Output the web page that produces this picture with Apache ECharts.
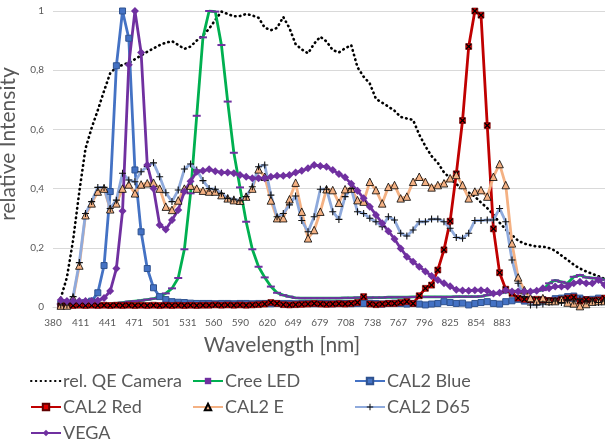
<!DOCTYPE html>
<html>
<head>
<meta charset="utf-8">
<script src="https://cdn.jsdelivr.net/npm/echarts@6.0.0/dist/echarts.min.js"></script>
<style>
html, body { margin: 0; padding: 0; background: #fff; }
#chart { width: 605px; height: 442px; }
</style>
</head>
<body>
<div id="chart"></div>
<script>
// wavelengths of the sample points (nm)
var wl = [388.7,395.6,402.5,409.5,416.4,423.3,430.2,437.2,444.1,451.0,
  457.9,464.9,471.8,478.7,485.6,492.6,499.5,506.4,513.3,520.3,
  527.2,534.1,541.0,548.0,554.9,561.8,568.7,575.7,582.6,589.5,
  596.4,603.3,610.3,617.2,624.1,631.0,638.0,644.9,651.8,658.7,
  665.7,672.6,679.5,686.4,693.4,700.3,707.2,714.1,721.1,728.0,
  734.9,741.8,748.8,755.7,762.6,769.5,776.4,783.4,790.3,797.2,
  804.1,811.1,818.0,824.9,831.8,838.8,845.7,852.6,859.5,866.5,
  873.4,880.3,887.2,894.2,901.1,908.0,914.9,921.9,928.8,935.7,
  942.6,949.6,956.5,963.4,970.3,977.3,984.2,991.1,998.0];

var tickLabels = [380,411,441,471,501,531,560,590,620,649,679,708,738,767,796,825,854,883];

var qeCamera = [0.03,0.10,0.225,0.39,0.535,0.605,0.665,0.73,0.79,0.81,
  0.818,0.825,0.837,0.85,0.862,0.874,0.885,0.893,0.898,0.885,
  0.872,0.88,0.90,0.918,0.94,0.97,0.998,0.99,0.982,0.983,
  0.99,0.985,0.977,0.944,0.935,0.943,0.98,0.942,0.888,0.87,
  0.857,0.89,0.913,0.897,0.868,0.86,0.874,0.885,0.81,0.778,
  0.755,0.703,0.69,0.677,0.663,0.642,0.637,0.632,0.582,0.543,
  0.51,0.487,0.455,0.435,0.415,0.40,0.387,0.373,0.353,0.334,
  0.312,0.285,0.262,0.243,0.224,0.214,0.209,0.204,0.204,0.199,
  0.19,0.174,0.159,0.143,0.13,0.12,0.112,0.104,0.095];

var creeLed = [0.01,0.01,0.01,0.01,0.01,0.01,0.01,0.01,0.01,0.012,
  0.015,0.018,0.02,0.022,0.025,0.028,0.035,0.046,0.063,0.098,
  0.195,0.384,0.646,0.911,1.0,0.998,0.885,0.694,0.521,0.404,
  0.288,0.195,0.136,0.10,0.069,0.048,0.04,0.035,0.031,0.03,
  0.03,0.03,0.03,0.03,0.03,0.03,0.031,0.031,0.032,0.032,
  0.032,0.032,0.032,0.033,0.033,0.033,0.033,0.034,0.034,0.034,
  0.034,0.034,0.034,0.034,0.035,0.035,0.035,0.035,0.036,0.04,
  0.044,0.047,0.05,0.052,0.054,0.05,0.052,0.055,0.057,0.08,
  0.09,0.085,0.08,0.102,0.108,0.1,0.098,0.097,0.092];

var cal2Blue = [0.01,0.01,0.012,0.012,0.015,0.02,0.048,0.14,0.39,0.815,
  1.0,0.908,0.463,0.254,0.13,0.065,0.035,0.025,0.018,0.016,
  0.015,0.013,0.012,0.012,0.012,0.011,0.012,0.012,0.011,0.012,
  0.012,0.011,0.012,0.012,0.011,0.012,0.012,0.012,0.011,0.012,
  0.012,0.011,0.012,0.012,0.011,0.012,0.012,0.011,0.012,0.012,
  0.013,0.012,0.01,0.012,0.013,0.012,0.01,0.012,0.01,0.007,
  0.01,0.012,0.018,0.015,0.012,0.013,0.007,0.012,0.015,0.018,
  0.012,0.01,0.018,0.021,0.026,0.02,0.025,0.02,0.025,0.02,
  0.028,0.03,0.035,0.037,0.03,0.025,0.026,0.03,0.028];

var cal2Red = [0.004,0.005,0.005,0.006,0.005,0.006,0.005,0.006,0.005,0.006,
  0.005,0.006,0.005,0.006,0.005,0.006,0.005,0.006,0.005,0.006,
  0.005,0.006,0.005,0.006,0.006,0.007,0.006,0.007,0.006,0.007,
  0.006,0.007,0.008,0.01,0.015,0.012,0.008,0.007,0.008,0.009,
  0.01,0.012,0.01,0.009,0.01,0.011,0.01,0.012,0.015,0.035,
  0.01,0.008,0.01,0.012,0.012,0.015,0.018,0.012,0.038,0.063,
  0.074,0.125,0.193,0.29,0.45,0.63,0.88,1.0,0.986,0.613,
  0.264,0.116,0.06,0.046,0.03,0.026,0.024,0.026,0.024,0.022,
  0.021,0.025,0.03,0.033,0.02,0.025,0.022,0.024,0.03];

var cal2E = [0.005,0.005,0.03,0.14,0.31,0.35,0.39,0.40,0.33,0.35,
  0.40,0.414,0.384,0.414,0.418,0.42,0.40,0.339,0.328,0.36,
  0.40,0.41,0.40,0.393,0.39,0.39,0.378,0.367,0.361,0.359,
  0.373,0.40,0.465,0.44,0.36,0.30,0.30,0.364,0.42,0.322,
  0.232,0.26,0.322,0.398,0.395,0.352,0.398,0.40,0.361,0.356,
  0.423,0.395,0.35,0.406,0.412,0.367,0.373,0.423,0.44,0.423,
  0.404,0.412,0.418,0.435,0.446,0.412,0.367,0.39,0.395,0.373,
  0.44,0.483,0.412,0.215,0.10,0.057,0.03,0.02,0.03,0.02,
  0.02,0.025,0.015,0.012,0.003,0.01,0.018,0.02,0.02];

var cal2D65 = [0.007,0.007,0.035,0.15,0.316,0.356,0.404,0.404,0.333,0.361,
  0.452,0.429,0.423,0.457,0.475,0.487,0.44,0.386,0.356,0.395,
  0.466,0.483,0.463,0.427,0.40,0.398,0.384,0.367,0.364,0.359,
  0.373,0.406,0.474,0.48,0.378,0.305,0.316,0.345,0.375,0.292,
  0.254,0.305,0.398,0.398,0.322,0.296,0.373,0.40,0.322,0.316,
  0.30,0.288,0.271,0.305,0.294,0.249,0.24,0.26,0.288,0.288,
  0.297,0.297,0.288,0.266,0.235,0.232,0.249,0.292,0.292,0.294,
  0.294,0.333,0.288,0.159,0.08,0.035,0.007,0.007,0.01,0.015,
  0.02,0.015,0.024,0.02,0.025,0.02,0.02,0.015,0.02];

var vega = [0.024,0.02,0.02,0.02,0.02,0.02,0.022,0.03,0.054,0.13,
  0.324,0.818,1.0,0.86,0.48,0.40,0.277,0.262,0.294,0.328,
  0.39,0.425,0.457,0.46,0.465,0.459,0.454,0.454,0.452,0.446,
  0.44,0.435,0.435,0.435,0.44,0.443,0.443,0.446,0.454,0.46,
  0.469,0.48,0.476,0.474,0.463,0.449,0.438,0.416,0.393,0.367,
  0.339,0.311,0.283,0.256,0.23,0.198,0.17,0.153,0.136,0.12,
  0.105,0.091,0.08,0.07,0.058,0.056,0.055,0.057,0.057,0.055,
  0.046,0.048,0.057,0.052,0.052,0.052,0.052,0.055,0.063,0.063,
  0.069,0.069,0.069,0.08,0.085,0.08,0.08,0.091,0.074];

function pairs(vals) {
  return wl.map(function (w, i) { return [w, vals[i]]; });
}

var plusPath = 'path://M3.8,0H5.2V3.8H9V5.2H5.2V9H3.8V5.2H0V3.8H3.8Z';
var crossPath = 'path://M0,1.6L1.6,0L5,3.4L8.4,0L10,1.6L6.6,5L10,8.4L8.4,10L5,6.6L1.6,10L0,8.4L3.4,5Z';
var dashPath = 'path://M0,0H8V2H0Z';
var font = 'Lato, "Liberation Sans", sans-serif';
var grey = '#595959';

var chartDom = document.getElementById('chart');
var myChart = echarts.init(chartDom);

function legendCol(left, names) {
  return {
    orient: 'vertical', left: left, top: 372, height: 80, padding: 0,
    itemWidth: 30, itemHeight: 8, itemGap: 8,
    data: names,
    textStyle: { fontFamily: font, fontSize: 18, lineHeight: 14, color: grey, padding: [0, 0, 0, -3] }
  };
}

var option = {
  animation: false,
  backgroundColor: '#fff',
  grid: { left: 53, right: 0, top: 11, bottom: 135, outerBoundsMode: 'none' },
  legend: [
    legendCol(30, [{ name: 'rel. QE Camera', itemStyle: { opacity: 0 } }, 'CAL2 Red', 'VEGA']),
    legendCol(192, ['Cree LED', 'CAL2 E']),
    legendCol(354, ['CAL2 Blue', 'CAL2 D65'])
  ],
  xAxis: {
    type: 'value', min: 380, max: 998.4,
    name: 'Wavelength [nm]', nameLocation: 'middle', nameGap: 28,
    nameTextStyle: { fontFamily: font, fontSize: 21, color: grey, padding: [0, 94, 0, 0] },
    axisLine: { show: true, lineStyle: { color: '#d9d9d9', width: 1 } },
    axisTick: { show: false },
    splitLine: { show: false },
    axisLabel: { customValues: tickLabels, fontFamily: font, fontSize: 10, color: grey, margin: 11 }
  },
  yAxis: {
    type: 'value', min: 0, max: 1, interval: 0.2,
    name: 'relative Intensity', nameLocation: 'middle', nameGap: 25,
    nameTextStyle: { fontFamily: font, fontSize: 21, color: grey, padding: [0, 0, 0, 30] },
    axisLine: { show: false },
    axisTick: { show: false },
    splitLine: { lineStyle: { color: '#d9d9d9', width: 1 } },
    axisLabel: {
      fontFamily: font, fontSize: 10, color: grey, margin: 9,
      formatter: function (v) { return String(Math.round(v * 10) / 10).replace('.', ','); }
    }
  },
  series: [
    {
      name: 'rel. QE Camera', type: 'line', data: pairs(qeCamera), showSymbol: false, symbol: 'none',
      itemStyle: { color: '#000' },
      lineStyle: { color: '#000', width: 2.6, type: [0.5, 4.3], cap: 'round' }
    },
    {
      name: 'Cree LED', type: 'line', data: pairs(creeLed),
      symbol: dashPath, symbolSize: 8, symbolKeepAspect: true,
      itemStyle: { color: '#7030A0' },
      lineStyle: { color: '#00B050', width: 2.8 }
    },
    {
      name: 'CAL2 Blue', type: 'line', data: pairs(cal2Blue),
      symbol: 'rect', symbolSize: 6,
      itemStyle: { color: '#4472C4', borderColor: '#2F528F', borderWidth: 1 },
      lineStyle: { color: '#4472C4', width: 2.8 }
    },
    {
      name: 'CAL2 Red', type: 'line', data: pairs(cal2Red),
      symbol: 'rect', symbolSize: 6,
      itemStyle: { color: '#E00000', borderColor: '#600000', borderWidth: 0.6 },
      lineStyle: { color: '#C00000', width: 2.8 }
    },
    {
      name: 'CAL2 Red x', type: 'line', data: pairs(cal2Red),
      symbol: crossPath, symbolSize: 6,
      itemStyle: { color: '#000' },
      lineStyle: { width: 0, opacity: 0 }
    },
    {
      name: 'CAL2 E', type: 'line', data: pairs(cal2E),
      symbol: 'triangle', symbolSize: 7.5,
      itemStyle: { color: '#F4B183', borderColor: '#000', borderWidth: 0.8 },
      lineStyle: { color: '#F4B183', width: 2.8 }
    },
    {
      name: 'CAL2 D65', type: 'line', data: pairs(cal2D65),
      symbol: plusPath, symbolSize: 7,
      itemStyle: { color: '#111' },
      lineStyle: { color: '#8FAADC', width: 2.8 }
    },
    {
      name: 'VEGA', type: 'line', data: pairs(vega),
      symbol: 'diamond', symbolSize: 8,
      itemStyle: { color: '#7030A0' },
      lineStyle: { color: '#7030A0', width: 2.8 }
    }
  ]
};

myChart.setOption(option);

window.onresize = function () {
  myChart.resize();
};
</script>
</body>
</html>
